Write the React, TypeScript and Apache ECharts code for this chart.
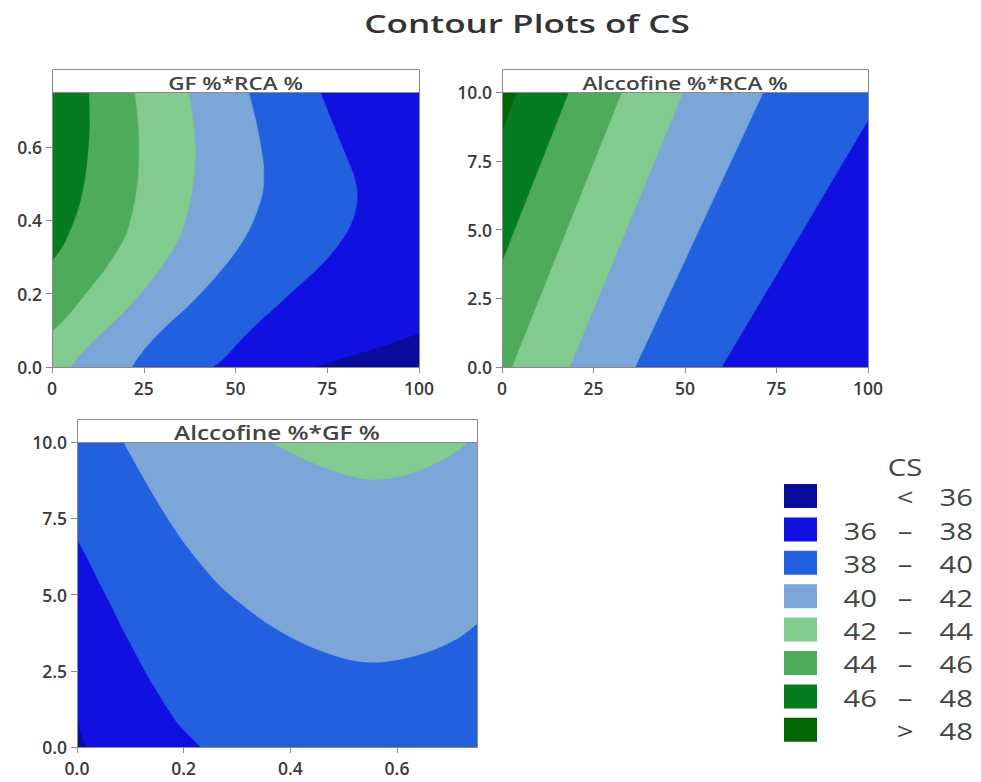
import React, { useEffect, useRef } from "react";
import * as echarts from "echarts";

// Fill colours of the CS bands, lowest to highest
const BAND_COLORS = ["#0c0c9c", "#1010e0", "#2360df", "#7ba6d8", "#80cb8d", "#4dab5b", "#057b22", "#026402"];
// Band breaks for CS
const CS_BREAKS = [36, 38, 40, 42, 44, 46, 48];

// Axis ticks
const RCA_TICKS = [0, 25, 50, 75, 100];
const GF_TICKS = [0, 0.2, 0.4, 0.6];
const ALC_TICKS = [0, 2.5, 5, 7.5, 10];

// Axis ranges
const RCA_RANGE = [0, 100];
const GF_RANGE = [0, 0.75];
const ALC_RANGE = [0, 10];

// ---- GF % (y) vs RCA % (x): contour lines [RCA, GF] ----
const gfRca36 = [[71.8, 0], [80, 0.025], [90, 0.055], [100, 0.091]];
const gfRca38 = [[73.1, 0.75], [76.7, 0.659], [80.4, 0.568], [82.2, 0.523], [83.1, 0.477], [82.8, 0.432], [81.3, 0.386], [78.6, 0.341], [74.9, 0.295], [70.4, 0.25], [65.4, 0.205], [60.4, 0.159], [55.4, 0.114], [50.9, 0.068], [46.8, 0.023], [43.8, 0]];
const gfRca40 = [[53.6, 0.75], [55.8, 0.659], [57.4, 0.568], [57.7, 0.523], [57.4, 0.477], [56.1, 0.432], [54.3, 0.386], [51.8, 0.341], [48.6, 0.295], [44.9, 0.25], [40.9, 0.205], [36.3, 0.159], [31.3, 0.114], [26.8, 0.068], [23.2, 0.023], [21.8, 0]];
const gfRca42 = [[37.2, 0.75], [38.6, 0.659], [39.0, 0.568], [38.1, 0.477], [35.9, 0.386], [34.1, 0.341], [31.3, 0.295], [28.1, 0.25], [24.5, 0.205], [20.4, 0.159], [15.9, 0.114], [10.9, 0.068], [6.8, 0.023], [5.0, 0]];
const gfRca44 = [[22.5, 0.75], [23.4, 0.659], [23.6, 0.568], [22.9, 0.477], [20.9, 0.386], [19.1, 0.341], [16.3, 0.295], [13.2, 0.25], [9.5, 0.205], [5.9, 0.159], [1.8, 0.114], [0, 0.1]];
const gfRca46 = [[10.0, 0.75], [10.2, 0.659], [9.6, 0.568], [8.6, 0.496], [7.1, 0.432], [4.7, 0.368], [2.5, 0.323], [0, 0.291]];

// ---- Alccofine % (y) vs RCA % (x): contour lines [RCA, Alccofine] ----
const alcRca38 = [[60, 0], [100, 8.97]];
const alcRca40 = [[36.4, 0], [71.4, 10]];
const alcRca42 = [[18.5, 0], [49.5, 10]];
const alcRca44 = [[2.7, 0], [32.7, 10]];
const alcRca46 = [[0, 3.83], [18.2, 10]];
const alcRca48 = [[0, 8.6], [4, 10]];

// ---- Alccofine % (y) vs GF % (x): contour lines [GF, Alccofine] ----
const alcGf36 = [[0, 0.82], [0.016, 0]];
const alcGf38 = [[0, 6.78], [0.019, 6.17], [0.034, 5.63], [0.05, 5.08], [0.066, 4.54], [0.081, 3.99], [0.098, 3.44], [0.114, 2.9], [0.131, 2.35], [0.15, 1.8], [0.169, 1.26], [0.191, 0.71], [0.231, 0]];
const alcGf40 = [[0.0875, 10], [0.122, 8.91], [0.159, 7.81], [0.2, 6.72], [0.25, 5.63], [0.281, 5.08], [0.319, 4.54], [0.3625, 3.99], [0.419, 3.44], [0.481, 3.01], [0.5375, 2.79], [0.594, 2.84], [0.656, 3.11], [0.7125, 3.55], [0.75, 4.04]];
const alcGf42 = [[0.3625, 10], [0.425, 9.45], [0.4875, 9.02], [0.544, 8.78], [0.6, 8.85], [0.65, 9.13], [0.7, 9.56], [0.734, 10]];

// A band region: a contour line followed by the plot corners that close it
type Region = { band: number; curve: number[][]; tail: number[][] };

function box(xr: number[], yr: number[]) {
  return [[xr[0], yr[0]], [xr[1], yr[0]], [xr[1], yr[1]], [xr[0], yr[1]]];
}

// Bands are painted bottom-up: each later region covers the area above its level
const gfRcaRegions: Region[] = [
  { band: 1, curve: [], tail: box(RCA_RANGE, GF_RANGE) },
  { band: 0, curve: gfRca36, tail: [[100, 0]] },
  { band: 2, curve: gfRca38, tail: [[0, 0], [0, 0.75]] },
  { band: 3, curve: gfRca40, tail: [[0, 0], [0, 0.75]] },
  { band: 4, curve: gfRca42, tail: [[0, 0], [0, 0.75]] },
  { band: 5, curve: gfRca44, tail: [[0, 0.75]] },
  { band: 6, curve: gfRca46, tail: [[0, 0.75]] },
];

const alcRcaRegions: Region[] = [
  { band: 1, curve: [], tail: box(RCA_RANGE, ALC_RANGE) },
  { band: 2, curve: alcRca38, tail: [[100, 10], [0, 10], [0, 0]] },
  { band: 3, curve: alcRca40, tail: [[0, 10], [0, 0]] },
  { band: 4, curve: alcRca42, tail: [[0, 10], [0, 0]] },
  { band: 5, curve: alcRca44, tail: [[0, 10], [0, 0]] },
  { band: 6, curve: alcRca46, tail: [[0, 10]] },
  { band: 7, curve: alcRca48, tail: [[0, 10]] },
];

const alcGfRegions: Region[] = [
  { band: 2, curve: [], tail: box(GF_RANGE, ALC_RANGE) },
  { band: 1, curve: alcGf38, tail: [[0, 0]] },
  { band: 0, curve: alcGf36, tail: [[0, 0]] },
  { band: 3, curve: alcGf40, tail: [[0.75, 10]] },
  { band: 4, curve: alcGf42, tail: [] },
];

// Panel layout in pixels
const PANELS = [
  { title: "GF %*RCA %", left: 52, top: 92, width: 367, height: 275, xr: RCA_RANGE, yr: GF_RANGE, xt: RCA_TICKS, yt: GF_TICKS, xd: 0, yd: 1, regions: gfRcaRegions, font: 18 },
  { title: "Alccofine %*RCA %", left: 502, top: 92, width: 366, height: 275, xr: RCA_RANGE, yr: ALC_RANGE, xt: RCA_TICKS, yt: ALC_TICKS, xd: 0, yd: 1, regions: alcRcaRegions, font: 18 },
  { title: "Alccofine %*GF %", left: 77, top: 442, width: 400, height: 305, xr: GF_RANGE, yr: ALC_RANGE, xt: GF_TICKS, yt: ALC_TICKS, xd: 1, yd: 1, regions: alcGfRegions, font: 19.5 },
];

const FRAME = "#8a8a8a";
const TEXT = "#3a3a3a";
const FONT = '"Open Sans", "DejaVu Sans", sans-serif';
const STRIP_H = 23;

// SVG path through pixel points: a smooth Catmull-Rom run for the contour, straight edges for the corners
function regionPath(curve: number[][], tail: number[][]) {
  const f = (v: number) => v.toFixed(2);
  let d = "";
  if (curve.length) {
    d += `M${f(curve[0][0])} ${f(curve[0][1])}`;
    for (let i = 0; i < curve.length - 1; i++) {
      const p0 = curve[Math.max(0, i - 1)];
      const p1 = curve[i];
      const p2 = curve[i + 1];
      const p3 = curve[Math.min(curve.length - 1, i + 2)];
      const c1x = p1[0] + (p2[0] - p0[0]) / 6;
      const c1y = p1[1] + (p2[1] - p0[1]) / 6;
      const c2x = p2[0] - (p3[0] - p1[0]) / 6;
      const c2y = p2[1] - (p3[1] - p1[1]) / 6;
      d += ` C${f(c1x)} ${f(c1y)} ${f(c2x)} ${f(c2y)} ${f(p2[0])} ${f(p2[1])}`;
    }
    tail.forEach((p) => (d += ` L${f(p[0])} ${f(p[1])}`));
  } else {
    tail.forEach((p, i) => (d += `${i ? " L" : "M"}${f(p[0])} ${f(p[1])}`));
  }
  return d + " Z";
}

function axis(p: any, i: number, dim: "x" | "y") {
  const range = dim === "x" ? p.xr : p.yr;
  const ticks = dim === "x" ? p.xt : p.yt;
  const digits = dim === "x" ? p.xd : p.yd;
  return {
    type: "value",
    gridIndex: i,
    min: range[0],
    max: range[1],
    z: 5,
    axisLine: { show: true, onZero: false, lineStyle: { color: FRAME, width: 1 } },
    axisTick: { show: true, customValues: ticks, length: 6, lineStyle: { color: FRAME, width: 1 } },
    axisLabel: {
      customValues: ticks,
      formatter: (v: number) => v.toFixed(digits),
      color: TEXT,
      fontSize: 17.5,
      fontWeight: 600,
      fontFamily: FONT,
      margin: dim === "x" ? 12 : 10,
    },
    splitLine: { show: false },
  };
}

export default function App() {
  const ref = useRef<HTMLDivElement>(null);

  useEffect(() => {
    if (!ref.current) return;
    const chart = echarts.init(ref.current, null, { renderer: "svg" });

    const graphics: any[] = [];
    // Main title
    graphics.push({
      type: "text",
      x: 527,
      y: 23,
      scaleX: 1.35,
      z: 20,
      style: { text: "Contour Plots of CS", fill: "#333", fontSize: 26, fontWeight: 600, fontFamily: FONT, textAlign: "center", textVerticalAlign: "middle" },
    });

    PANELS.forEach((p) => {
      // Header strip above each panel
      graphics.push({
        type: "rect",
        z: 0,
        shape: { x: p.left + 0.5, y: p.top - STRIP_H + 0.5, width: p.width, height: STRIP_H },
        style: { fill: "#fff", stroke: FRAME, lineWidth: 1 },
      });
      graphics.push({
        type: "text",
        z: 1,
        x: p.left + p.width / 2,
        y: p.top - STRIP_H / 2 + 2,
        scaleX: 1.25,
        style: { text: p.title, fill: "#444", fontSize: p.font, fontWeight: 600, fontFamily: FONT, textAlign: "center", textVerticalAlign: "middle" },
      });
      // Plot frame on top of the filled bands
      graphics.push({
        type: "rect",
        z: 30,
        silent: true,
        shape: { x: p.left + 0.5, y: p.top + 0.5, width: p.width, height: p.height },
        style: { fill: "none", stroke: FRAME, lineWidth: 1 },
      });
    });

    // Legend
    const LX = 784;
    const LY0 = 484;
    const PITCH = 33.4;
    const legendFont = { fill: "#444", fontSize: 24, fontFamily: FONT, textVerticalAlign: "middle" };
    graphics.push({
      type: "text",
      x: 905,
      y: 467,
      scaleX: 1.22,
      style: { ...legendFont, text: "CS", textAlign: "center" },
    });
    BAND_COLORS.forEach((c, i) => {
      const yc = LY0 + 12 + i * PITCH;
      graphics.push({
        type: "rect",
        shape: { x: LX, y: LY0 + i * PITCH, width: 33, height: 24 },
        style: { fill: c },
      });
      let lo = "";
      let sep = "–";
      let hi = "";
      if (i === 0) {
        sep = "<";
        hi = String(CS_BREAKS[0]);
      } else if (i === BAND_COLORS.length - 1) {
        sep = ">";
        hi = String(CS_BREAKS[CS_BREAKS.length - 1]);
      } else {
        lo = String(CS_BREAKS[i - 1]);
        hi = String(CS_BREAKS[i]);
      }
      if (lo) {
        graphics.push({ type: "text", x: 877, y: yc + 1, scaleX: 1.22, style: { ...legendFont, text: lo, textAlign: "right" } });
      }
      graphics.push({ type: "text", x: 905, y: yc + 1, scaleX: 1.22, style: { ...legendFont, text: sep, textAlign: "center" } });
      graphics.push({ type: "text", x: 973, y: yc + 1, scaleX: 1.22, style: { ...legendFont, text: hi, textAlign: "right" } });
    });

    const option: any = {
      animation: false,
      backgroundColor: "#fff",
      grid: PANELS.map((p) => ({ left: p.left, top: p.top, width: p.width, height: p.height, outerBoundsMode: "none", containLabel: false })),
      xAxis: PANELS.map((p, i) => axis(p, i, "x")),
      yAxis: PANELS.map((p, i) => axis(p, i, "y")),
      series: PANELS.map((p, i) => ({
        type: "custom",
        xAxisIndex: i,
        yAxisIndex: i,
        coordinateSystem: "cartesian2d",
        silent: true,
        clip: true,
        data: p.regions.map((r) => (r.curve.length ? r.curve[0] : r.tail[0])),
        renderItem: (params: any, api: any) => {
          const r = p.regions[params.dataIndex];
          const color = BAND_COLORS[r.band];
          const curve = r.curve.map((pt) => api.coord(pt));
          const tail = r.tail.map((pt) => api.coord(pt));
          return {
            type: "path",
            shape: { pathData: regionPath(curve, tail) },
            style: { fill: color, stroke: color, lineWidth: 0.6 },
          };
        },
      })),
      graphic: graphics,
    };

    chart.setOption(option);
    return () => chart.dispose();
  }, []);

  return (
    <div
      ref={ref}
      style={{ position: "fixed", left: 0, top: 0, width: 981, height: 782, background: "#fff" }}
    />
  );
}
